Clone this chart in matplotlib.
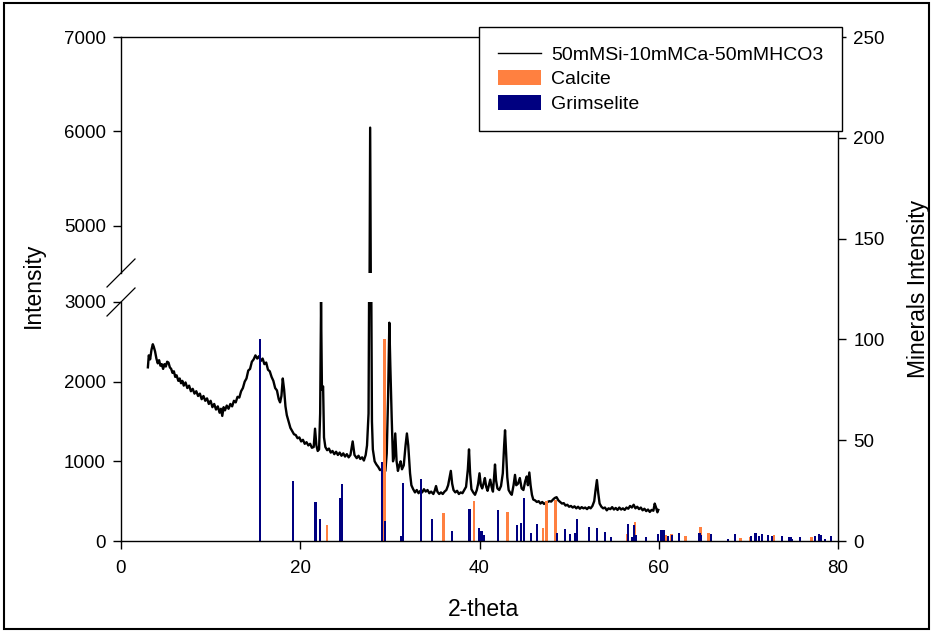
import numpy as np
import matplotlib
matplotlib.use('Agg')
import matplotlib.pyplot as plt
from matplotlib.lines import Line2D
from matplotlib.patches import Rectangle, Patch

plt.rcParams['font.family'] = ['Liberation Sans', 'DejaVu Sans']

# XRD pattern (2-theta, counts)
xrd_points = [
    (3.0, 2180), (3.1, 2330), (3.25, 2280), (3.4, 2400), (3.55, 2470), (3.65, 2440),
    (3.8, 2380), (3.95, 2290), (4.1, 2230), (4.25, 2270), (4.4, 2200), (4.55, 2220),
    (4.7, 2160), (4.85, 2220), (5.0, 2190), (5.15, 2250), (5.3, 2240), (5.45, 2180),
    (5.6, 2160), (5.75, 2110), (5.9, 2130), (6.05, 2060), (6.2, 2080), (6.4, 2010),
    (6.55, 2040), (6.7, 1980), (6.85, 2010), (7.0, 1950), (7.2, 1990), (7.4, 1920),
    (7.6, 1950), (7.8, 1880), (8.0, 1910), (8.2, 1850), (8.4, 1880), (8.6, 1820),
    (8.8, 1850), (9.0, 1780), (9.2, 1820), (9.4, 1760), (9.6, 1790), (9.8, 1720),
    (10.0, 1760), (10.2, 1680), (10.4, 1720), (10.6, 1650), (10.8, 1690), (11.0, 1610),
    (11.15, 1660), (11.3, 1570), (11.45, 1680), (11.6, 1640), (11.8, 1700), (12.0, 1660),
    (12.2, 1720), (12.4, 1690), (12.6, 1760), (12.8, 1740), (13.0, 1810), (13.2, 1800),
    (13.4, 1880), (13.6, 1920), (13.8, 2000), (14.0, 2040), (14.2, 2140), (14.4, 2160),
    (14.6, 2250), (14.8, 2280), (15.0, 2330), (15.2, 2290), (15.4, 2320), (15.6, 2260),
    (15.8, 2290), (16.0, 2220), (16.2, 2240), (16.4, 2150), (16.6, 2130), (16.8, 2060),
    (17.0, 2010), (17.2, 1920), (17.4, 1890), (17.6, 1780), (17.75, 1740), (17.9, 1820),
    (18.05, 2040), (18.2, 1900), (18.35, 1690), (18.5, 1580), (18.7, 1500), (18.9, 1420),
    (19.1, 1380), (19.3, 1340), (19.5, 1330), (19.7, 1290), (19.9, 1300), (20.1, 1250),
    (20.3, 1270), (20.5, 1220), (20.7, 1240), (20.9, 1200), (21.1, 1220), (21.3, 1170),
    (21.5, 1180), (21.65, 1410), (21.8, 1200), (21.95, 1130), (22.1, 1150), (22.22, 1600),
    (22.32, 3000), (22.42, 1900), (22.55, 1940), (22.65, 1300), (22.8, 1180), (23.0, 1140),
    (23.2, 1160), (23.4, 1110), (23.6, 1130), (23.8, 1090), (24.0, 1120), (24.2, 1080),
    (24.4, 1110), (24.6, 1070), (24.8, 1100), (25.0, 1060), (25.2, 1090), (25.4, 1050),
    (25.6, 1080), (25.85, 1250), (26.05, 1080), (26.3, 1040), (26.5, 1070), (26.7, 1030),
    (26.9, 1050), (27.1, 1010), (27.3, 1080), (27.45, 1200), (27.62, 1600), (27.8, 6040),
    (28.0, 1500), (28.1, 1150), (28.3, 1000), (28.5, 960), (28.7, 930), (28.9, 890),
    (29.1, 900), (29.3, 870), (29.5, 880), (29.65, 1100), (29.8, 1800), (29.94, 2740),
    (30.05, 2200), (30.2, 1560), (30.35, 1000), (30.45, 1050), (30.6, 1350), (30.75, 1000),
    (30.9, 880), (31.05, 950), (31.2, 1000), (31.35, 900), (31.55, 950), (31.75, 1200),
    (31.9, 1350), (32.05, 1200), (32.25, 850), (32.4, 700), (32.6, 650), (32.8, 610),
    (33.0, 640), (33.2, 600), (33.4, 630), (33.6, 610), (33.8, 650), (34.0, 620),
    (34.2, 640), (34.4, 600), (34.6, 620), (34.85, 590), (35.0, 630), (35.15, 690),
    (35.3, 620), (35.5, 590), (35.7, 610), (35.9, 590), (36.1, 620), (36.3, 640),
    (36.5, 700), (36.65, 790), (36.8, 880), (36.95, 720), (37.1, 640), (37.3, 610),
    (37.5, 630), (37.7, 590), (37.9, 610), (38.1, 600), (38.3, 640), (38.5, 680),
    (38.7, 900), (38.83, 1150), (38.95, 850), (39.1, 650), (39.3, 610), (39.5, 580),
    (39.7, 640), (39.85, 720), (40.0, 850), (40.15, 700), (40.3, 660), (40.45, 720),
    (40.6, 790), (40.75, 680), (40.9, 630), (41.05, 700), (41.2, 770), (41.35, 680),
    (41.5, 620), (41.6, 760), (41.73, 960), (41.85, 760), (42.0, 660), (42.2, 640),
    (42.4, 690), (42.6, 850), (42.75, 1200), (42.85, 1390), (42.95, 1150), (43.1, 800),
    (43.25, 640), (43.45, 600), (43.6, 580), (43.8, 700), (43.96, 830), (44.1, 700),
    (44.3, 720), (44.5, 790), (44.7, 660), (44.9, 640), (45.1, 750), (45.27, 810),
    (45.4, 700), (45.56, 860), (45.7, 700), (45.85, 580), (46.0, 520), (46.2, 510),
    (46.4, 490), (46.6, 500), (46.8, 470), (47.0, 490), (47.2, 465), (47.4, 480),
    (47.6, 490), (47.8, 500), (48.0, 495), (48.2, 520), (48.4, 540), (48.6, 550),
    (48.8, 510), (49.0, 490), (49.2, 470), (49.4, 475), (49.6, 445), (49.8, 455),
    (50.0, 430), (50.2, 440), (50.4, 420), (50.6, 435), (50.8, 410), (51.0, 430),
    (51.2, 405), (51.4, 425), (51.6, 410), (51.8, 420), (52.0, 400), (52.2, 425),
    (52.4, 410), (52.6, 440), (52.8, 500), (52.95, 640), (53.1, 765), (53.25, 600),
    (53.4, 470), (53.6, 430), (53.8, 410), (54.0, 420), (54.2, 385), (54.4, 410),
    (54.6, 400), (54.8, 425), (55.0, 395), (55.2, 415), (55.4, 390), (55.6, 420),
    (55.8, 395), (56.0, 410), (56.2, 390), (56.4, 420), (56.6, 405), (56.8, 440),
    (57.0, 420), (57.2, 455), (57.4, 410), (57.6, 430), (57.8, 400), (58.0, 420),
    (58.2, 385), (58.4, 405), (58.6, 375), (58.8, 395), (59.0, 365), (59.2, 390),
    (59.4, 380), (59.55, 470), (59.7, 420), (59.85, 360), (59.95, 390),
]
two_theta, counts = np.array(xrd_points).T

# reference patterns (right axis)
calcite_pos = [23.0, 29.4, 36.0, 39.4, 43.15, 47.1, 47.5, 48.5, 56.45, 57.35, 60.8,
               61.4, 63.0, 64.65, 65.55, 69.1, 70.2, 72.85, 77.05]
calcite_int = [8, 100, 14, 20, 14.5, 6.3, 19.8, 20.3, 3.7, 9.3, 2.8,
               3.6, 2.5, 7, 4, 1.7, 2, 2.8, 2]

grims_pos = [15.5, 19.15, 21.7, 22.17, 24.4, 24.7, 29.08, 29.45, 31.22, 31.45,
             33.5, 34.68, 36.9, 38.88, 39.92, 40.22, 40.5, 42.08, 44.17, 44.62,
             44.97, 45.75, 46.43, 48.62, 49.54, 50.06, 50.65, 50.88, 52.25, 53.1,
             54.03, 54.65, 56.57, 56.98, 57.2, 57.45, 58.6, 59.9, 60.3, 60.6,
             61.0, 61.5, 62.26, 64.55, 64.75, 65.8, 67.7, 68.5, 70.3, 70.8,
             71.2, 71.5, 72.15, 72.6, 73.75, 74.5, 74.7, 74.9, 75.76, 77.4,
             77.9, 78.1, 78.55, 79.2]
grims_int = [100, 30, 19.3, 11, 21.2, 28.3, 39.3, 10, 2.5, 29,
             30.6, 11, 5, 15.8, 6.5, 5, 3, 15.4, 8, 8.7,
             21.2, 3.8, 8.6, 4, 5.8, 3.3, 4, 10.9, 6.8, 6.3,
             4.3, 2.1, 8.5, 2.2, 8, 3.2, 2.2, 3.6, 5.5, 5.3,
             2.3, 2.8, 4, 4, 3, 3.3, 1.2, 3.6, 2.3, 4.1,
             2.3, 3.3, 2.8, 2.5, 2.3, 2, 2, 1.2, 2, 2.5,
             3.6, 2.8, 1.2, 2.3]

W, H = 933, 632
def box(l, t, r, b):
    # pixel box -> figure fraction
    return [l / W, 1 - b / H, (r - l) / W, (b - t) / H]

fig = plt.figure(figsize=(W / 100, H / 100), dpi=100)
ax_lo = fig.add_axes(box(121, 302, 838, 541))
ax_hi = fig.add_axes(box(121, 37, 838, 273))
ax_r = fig.add_axes(box(121, 37, 838, 541))
ax_lo.set_zorder(0)
ax_hi.set_zorder(0)
ax_r.set_zorder(1)  # bars sit on top of the pattern
ax_r.patch.set_visible(False)

tick_kw = dict(direction='out', length=6, width=1, labelsize=13.5, pad=5)

# minerals on the right axis
ax_r.bar(calcite_pos, calcite_int, width=0.3, color='#ff8040', linewidth=0)
ax_r.bar(grims_pos, grims_int, width=0.24, color='#000080', linewidth=0)
ax_r.set_xlim(0, 80)
ax_r.set_ylim(0, 250)
ax_r.set_xticks([0, 20, 40, 60, 80])
ax_r.set_yticks([0, 50, 100, 150, 200, 250])
ax_r.yaxis.tick_right()
ax_r.spines['left'].set_visible(False)
for s in ax_r.spines.values():
    s.set_linewidth(1)
ax_r.tick_params(axis='both', **tick_kw)
ax_r.tick_params(axis='x', pad=8)

# broken left axis
for ax, lims, ticks in [(ax_lo, (0, 3000), [0, 1000, 2000, 3000]),
                        (ax_hi, (4500, 7000), [5000, 6000, 7000])]:
    ax.plot(two_theta, counts, color='k', lw=1.7)
    ax.set_xlim(0, 80)
    ax.set_ylim(*lims)
    ax.set_yticks(ticks)
    ax.patch.set_visible(False)
    for side in ['top', 'right', 'bottom']:
        ax.spines[side].set_visible(False)
    ax.spines['left'].set_linewidth(1)
    ax.set_xticks([])
    ax.tick_params(axis='y', **tick_kw)

# break marks
for yc in [273, 302]:
    fig.add_artist(Line2D([107 / W, 135 / W], [1 - (yc + 14) / H, 1 - (yc - 14) / H],
                          color='k', lw=0.9, transform=fig.transFigure))

fig.text(33 / W, 1 - 285 / H, 'Intensity', rotation=90, fontsize=16.5,
         ha='center', va='center')
fig.text(918 / W, 1 - 289 / H, 'Minerals Intensity', rotation=90, fontsize=16.5,
         ha='center', va='center')
fig.text(483 / W, 1 - 609 / H, '2-theta', fontsize=16.5, ha='center', va='center')

handles = [Line2D([], [], color='k', lw=1), Patch(fc='#ff8040'), Patch(fc='#000080')]
labels = ['50mMSi-10mMCa-50mMHCO3', 'Calcite', 'Grimselite']
leg = fig.legend(handles, labels, loc='upper right', bbox_to_anchor=(842 / W, 1 - 27 / H),
                 bbox_transform=fig.transFigure, fancybox=False, edgecolor='k',
                 framealpha=1, fontsize=14, borderpad=0.95, labelspacing=0.33,
                 handlelength=2.2, handleheight=0.8, handletextpad=0.55,
                 borderaxespad=0)
leg.get_frame().set_linewidth(1)
leg.set_zorder(10)

# outer frame around the whole picture
fig.add_artist(Rectangle((4 / W, 3 / H), 925 / W, 626 / H, transform=fig.transFigure,
                         fill=False, ec='k', lw=1.5))

fig.savefig('out.png', dpi=100)
